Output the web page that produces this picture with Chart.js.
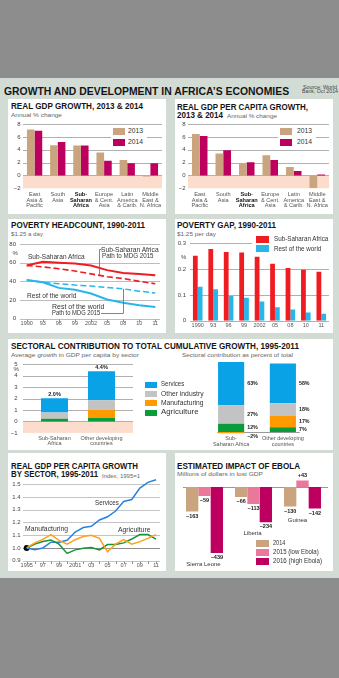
<!DOCTYPE html>
<html>
<head>
<meta charset="utf-8">
<script src="https://cdn.jsdelivr.net/npm/chart.js@4.4.0/dist/chart.umd.min.js"></script>
<style>
  body { margin: 0; width: 339px; height: 678px; background: #8d8d8d; position: relative; overflow: hidden;
         font-family: "Liberation Sans", Arial, sans-serif; }
  .bg { position: absolute; left: 0; top: 78px; width: 339px; height: 500px; background: #d2dcd5; }
  .box { position: absolute; background: #fff; }
  .tx { position: absolute; white-space: nowrap; transform-origin: 0 50%; }
  .sq { position: absolute; }
  canvas { position: absolute; }
</style>
</head>
<body>
<div class="bg"></div>
<script>
// ---- data ----
const gdpCats = [['East', 'Asia &', 'Pacific'], ['South', 'Asia'], ['Sub-', 'Saharan', 'Africa'],
                 ['Europe', '& Cent.', 'Asia'], ['Latin', 'America', '& Carib.'], ['Middle', 'East &', 'N. Africa']];
const gdp2013 = [7.15, 4.7, 4.65, 3.55, 2.4, -0.15];
const gdp2014 = [6.95, 5.2, 4.65, 2.3, 1.9, 1.9];
const pcap2013 = [6.45, 3.4, 1.95, 3.15, 1.3, -2.0];
const pcap2014 = [6.15, 3.9, 2.05, 2.4, 0.7, 0.15];

const povYears = ['1990', '93', '96', '99', '2002', '05', '08', '10', '11'];
const hcSSA = [57, 61, 60, 59, 57, 52, 49, 48, 46.5];
const hcSSAPath = [57, 55.5, 53.5, 51, 48, 45, 43, 40, 37.5];
const hcRest = [41.5, 39, 33, 31, 27, 20.5, 17, 14.5, 12.5];
const hcRestPath = [41.5, 39, 37.5, 36, 35, 33.5, 32, 29.5, 27.5];

const gapSSA = [0.252, 0.278, 0.266, 0.264, 0.248, 0.221, 0.204, 0.197, 0.19];
const gapRest = [0.132, 0.122, 0.096, 0.089, 0.074, 0.052, 0.043, 0.032, 0.027];

const sectorCats = [['Sub-Saharan', 'Africa'], ['Other developing', 'countries']];
const sectorCats2 = [['Sub-', 'Saharan Africa'], ['Other developing', 'countries']];
const avgAgri = [0.24, 0.31];
const avgManu = [-0.04, 0.75];
const avgOther = [0.54, 0.79];
const avgServ = [1.26, 2.55];
const avgTotal = [2.0, 4.4];
const shareAgri = [12, 7];
const shareManu = [-2, 17];
const shareOther = [27, 18];
const shareServ = [63, 58];

const secYears = ['1995', '1996', '1997', '1998', '1999', '2000', '2001', '2002', '2003', '2004',
                  '2005', '2006', '2007', '2008', '2009', '2010', '2011'];
const secTicks = ['1995', '97', '99', '2001', '03', '05', '07', '09', '11'];
const servIdx = [1.0, 0.987, 1.0, 1.045, 1.045, 1.06, 1.125, 1.16, 1.17, 1.22, 1.245, 1.29, 1.365, 1.38, 1.47, 1.515, 1.535];
const manuIdx = [1.0, 1.04, 1.067, 1.105, 1.06, 1.03, 1.065, 1.09, 1.1, 1.075, 0.97, 1.03, 1.065, 1.03, 1.05, 1.075, 1.105];
const agriIdx = [1.0, 1.03, 1.05, 1.063, 1.03, 0.957, 0.985, 0.997, 1.003, 0.985, 1.027, 1.027, 1.04, 1.07, 1.105, 1.105, 1.07];
const baseIdx = 1.0;

const ebolaCountries = ['Sierra Leone', 'Liberia', 'Guinea'];
const loss2014 = [-163, -66, -130];
const loss2015 = [-59, -113, 43];
const loss2016 = [-439, -234, -142];

// ---- colours ----
const TAN = '#c9a47f', MAG = '#bd0060', PINK = '#e9789a', NEGZ = '#fcdccc';
const RED = '#ef1c22', CYAN = '#28b6ea';
const C_SERV = '#0aa2e6', C_OTH = '#c3c3c3', C_MAN = '#ff9b00', C_AGR = '#0a9b3b';
const L_SERV = '#2a82dc', L_MAN = '#ff9f1a', L_AGR = '#149436';
const FONT = '"Liberation Sans", Arial, sans-serif';

Chart.defaults.font.family = FONT;
Chart.defaults.color = '#444';
Chart.defaults.animation = false;
Chart.defaults.responsive = false;
Chart.defaults.plugins.legend.display = false;
Chart.defaults.plugins.tooltip.enabled = false;

// ---- page helpers ----
function el(tag, cls, css) {
  const e = document.createElement(tag);
  if (cls) e.className = cls;
  Object.assign(e.style, css);
  document.body.appendChild(e);
  return e;
}
function box(x, y, w, h) {
  el('div', 'box', { left: x + 'px', top: y + 'px', width: w + 'px', height: h + 'px' });
}
function sq(x, y, w, h, c) {
  el('div', 'sq', { left: x + 'px', top: y + 'px', width: w + 'px', height: h + 'px', background: c });
}
function text(str, x, cy, fs, opt = {}) {
  const e = el('div', 'tx', {
    left: x + 'px', top: (cy - fs / 2) + 'px', fontSize: fs + 'px', lineHeight: fs + 'px',
    fontWeight: opt.b ? 'bold' : 'normal', color: opt.c || '#333'
  });
  e.textContent = str;
  if (opt.w) e.dataset.w = opt.w;
}
function canvas(bx) {
  const c = el('canvas', null, { left: bx[0] + 'px', top: bx[1] + 'px' });
  c.width = bx[2];
  c.height = bx[3];
  return c;
}
// padding / axis sizes so the plot area lands at [L, T, R, B] in page pixels
function frame(bx, area, hideX, hideY) {
  const [X, Y, W, H] = bx, [L, T, R, B] = area;
  return {
    padding: { left: hideY ? L - X : 0, top: T - Y, right: X + W - R, bottom: hideX ? Y + H - B : 0 },
    yw: L - X, xh: Y + H - B
  };
}
const minus = v => (v < 0 ? '\u2212' + Math.abs(v) : '' + v);

function yAxis(min, max, step, w, pad, fmt) {
  return {
    min, max, afterFit: s => { s.width = w; },
    grid: { display: false, drawTicks: false }, border: { display: false },
    ticks: { stepSize: step, padding: pad, font: { size: 6 }, color: '#444', callback: fmt }
  };
}
function xAxis(h, pad, size, extra) {
  return Object.assign({
    afterFit: s => { s.height = h; },
    grid: { display: false, drawTicks: false }, border: { display: false },
    ticks: { padding: pad, autoSkip: false, maxRotation: 0, font: { size: size, lineHeight: 1 }, color: '#555' }
  }, extra || {});
}

// gridlines, pink negative zone and x tick marks
const gridBg = {
  id: 'gridBg',
  beforeDatasetsDraw(chart, args, o) {
    const { ctx, chartArea: a } = chart;
    const y = chart.scales.y;
    const l = a.left - (o.extL || 0), r = a.right + (o.extR || 0);
    ctx.save();
    if (o.neg) {
      const z = y.getPixelForValue(0);
      ctx.fillStyle = NEGZ;
      ctx.fillRect(l, z, r - l, a.bottom - z);
    }
    ctx.lineWidth = 1;
    y.ticks.forEach(t => {
      if (o.neg && t.value === y.min) return;
      const p = Math.round(y.getPixelForValue(t.value)) + 0.5;
      ctx.strokeStyle = (o.dark !== undefined && Math.abs(t.value - o.dark) < 1e-6) ? '#8c8c8c' : (o.color || '#b0b0b0');
      ctx.beginPath(); ctx.moveTo(l, p); ctx.lineTo(r, p); ctx.stroke();
    });
    if (o.xTicks) {
      const x = chart.scales.x, b = Math.round(a.bottom) + 0.5;
      ctx.strokeStyle = '#8c8c8c';
      x.ticks.forEach((t, i) => {
        const px = Math.round(x.getPixelForTick(i)) + 0.5;
        ctx.beginPath(); ctx.moveTo(px, b); ctx.lineTo(px, b + 2.5); ctx.stroke();
      });
    }
    ctx.restore();
  }
};

// ---- panels and titles ----
box(8, 99, 158, 115); box(175, 99, 158, 115);
box(8, 219, 158, 114); box(175, 219, 158, 114);
box(8, 339, 325, 111);
box(8, 453, 158, 118); box(175, 453, 158, 118);

const T = { b: true, c: '#151515' }, S = { c: '#666' };
text('GROWTH AND DEVELOPMENT IN AFRICA\u2019S ECONOMIES', 3.5, 91.3, 10.5, { b: true, c: '#151515', w: 285 });
text('Source: World', 303.3, 88.5, 4.8, { c: '#444', w: 34 });
text('Bank, Oct 2014', 302, 92.6, 4.8, { c: '#444', w: 36 });

text('REAL GDP GROWTH, 2013 & 2014', 11, 106.3, 8.5, { ...T, w: 132 });
text('Annual % change', 11, 114.7, 6, { ...S, w: 51 });
text('REAL GDP PER CAPITA GROWTH,', 177.3, 107, 8.5, { ...T, w: 131 });
text('2013 & 2014', 177.3, 115.7, 8.5, { ...T, w: 46 });
text('Annual % change', 226.7, 116, 6, { ...S, w: 50 });

text('POVERTY HEADCOUNT, 1990-2011', 11, 225.7, 8.5, { ...T, w: 134 });
text('$1.25 a day', 11, 233.5, 6, { ...S, w: 32 });
text('POVERTY GAP, 1990-2011', 177.3, 225.7, 8.5, { ...T, w: 99 });
text('$1.25 per day', 177.3, 233.5, 6, { ...S, w: 39 });

text('SECTORAL CONTRIBUTION TO TOTAL CUMULATIVE GROWTH, 1995-2011', 11, 346.3, 8.5, { ...T, w: 288 });
text('Average growth in GDP per capita by sector', 11, 354.5, 6, { ...S, w: 128 });
text('Sectoral contribution as percent of total', 181.7, 354.5, 6, { ...S, w: 111 });

text('REAL GDP PER CAPITA GROWTH', 11, 466.3, 8.5, { ...T, w: 127 });
text('BY SECTOR, 1995-2011', 11, 474.7, 8.5, { ...T, w: 87 });
text('Index, 1995=1', 101.7, 475.5, 6, { ...S, w: 38 });

text('ESTIMATED IMPACT OF EBOLA', 177.3, 466.3, 8.5, { ...T, w: 123 });
text('Millions of dollars in lost GDP', 177.3, 474, 6, { ...S, w: 86 });

// ---- GDP growth charts ----
function gdpChart(bx, area, d13, d14) {
  const f = frame(bx, area);
  new Chart(canvas(bx), {
    type: 'bar',
    data: { labels: gdpCats, datasets: [
      { label: '2013', data: d13, backgroundColor: TAN },
      { label: '2014', data: d14, backgroundColor: MAG }
    ] },
    options: {
      layout: { padding: f.padding },
      datasets: { bar: { categoryPercentage: 0.66, barPercentage: 1 } },
      scales: {
        x: xAxis(f.xh, 3.5, 5.6, {}),
        y: yAxis(-2, 8, 2, f.yw, 2.5, minus)
      },
      plugins: { gridBg: { neg: true } }
    },
    plugins: [gridBg]
  });
}
gdpChart([8, 99, 158, 115], [23, 124, 162, 188.3], gdp2013, gdp2014);
gdpChart([175, 99, 158, 115], [188, 124, 329, 188.3], pcap2013, pcap2014);
// bold Sub-Saharan tick
Object.values(Chart.instances).forEach(c => {
  c.options.scales.x.ticks.font = ctx => ({ size: 5.6, lineHeight: 1, weight: ctx.index === 2 ? 'bold' : 'normal' });
  c.options.scales.x.ticks.color = ctx => (ctx.index === 2 ? '#111' : '#555');
  c.update();
});

el('div', 'sq', { left: '111px', top: '126px', width: '36px', height: '22px', background: '#fff' });
sq(113.3, 128.3, 11.7, 6.7, TAN); sq(113.3, 139, 11.7, 6.7, MAG);
text('2013', 128.3, 131.7, 6.5, { w: 15 }); text('2014', 128.3, 142.3, 6.5, { w: 15 });
el('div', 'sq', { left: '278px', top: '126px', width: '38px', height: '22px', background: '#fff' });
sq(280, 128.3, 12.3, 6.7, TAN); sq(280, 139, 12.3, 6.7, MAG);
text('2013', 296.7, 131.7, 6.5, { w: 15 }); text('2014', 296.7, 142.3, 6.5, { w: 15 });

// ---- poverty headcount ----
const hcNotes = {
  id: 'hcNotes',
  afterDatasetsDraw(chart) {
    const { ctx, scales: { x, y } } = chart;
    ctx.save();
    ctx.strokeStyle = '#666';
    ctx.lineWidth = 0.8;
    const xa = Math.round(x.getPixelForValue(4.5)) + 0.5;
    const ya = y.getPixelForValue((hcSSAPath[4] + hcSSAPath[5]) / 2);
    ctx.beginPath(); ctx.moveTo(xa + 2, 30.5); ctx.lineTo(xa, 30.5); ctx.lineTo(xa, ya); ctx.stroke();
    const xb = Math.round(x.getPixelForValue(6)) + 0.5, yb = y.getPixelForValue(hcRestPath[6]);
    ctx.beginPath(); ctx.moveTo(93, 94.5); ctx.lineTo(xb, 94.5); ctx.lineTo(xb, yb); ctx.stroke();
    ctx.restore();
  }
};
{
  const bx = [8, 219, 158, 114], f = frame(bx, [26.7, 244, 155.3, 320.7]);
  new Chart(canvas(bx), {
    type: 'line',
    data: { labels: povYears, datasets: [
      { data: hcRestPath, borderColor: CYAN, borderWidth: 1.5, borderDash: [6, 3] },
      { data: hcRest, borderColor: CYAN, borderWidth: 2 },
      { data: hcSSAPath, borderColor: RED, borderWidth: 1.6, borderDash: [6, 3] },
      { data: hcSSA, borderColor: RED, borderWidth: 2 }
    ] },
    options: {
      layout: { padding: f.padding },
      elements: { point: { radius: 0 }, line: { tension: 0 } },
      scales: {
        x: xAxis(f.xh, 2.5, 5.5),
        y: yAxis(0, 80, 20, f.yw, 10.7)
      },
      plugins: { gridBg: { extL: 6.7, extR: 4.7, xTicks: true, color: '#bdbdbd' } }
    },
    plugins: [gridBg, hcNotes]
  });
}
text('%', 12.5, 252.7, 6, { c: '#444' });
text('Sub-Saharan Africa', 28.3, 256.7, 6.3, { w: 56.7 });
text('Sub-Saharan Africa', 100.7, 250, 6.3, { w: 57.6 });
text('Path to MDG 2015', 101.7, 256.2, 6.3, { w: 51.6 });
text('Rest of the world', 26.7, 296, 6.3, { w: 49.3 });
text('Rest of the world', 51.7, 306.7, 6.3, { w: 52.3 });
text('Path to MDG 2015', 51.7, 313.3, 6.3, { w: 48.3 });

// ---- poverty gap ----
{
  const bx = [175, 219, 158, 114], f = frame(bx, [190, 243.3, 329, 320.7]);
  new Chart(canvas(bx), {
    type: 'bar',
    data: { labels: povYears, datasets: [
      { label: 'Sub-Saharan Africa', data: gapSSA, backgroundColor: RED },
      { label: 'Rest of the world', data: gapRest, backgroundColor: CYAN }
    ] },
    options: {
      layout: { padding: f.padding },
      datasets: { bar: { categoryPercentage: 0.62, barPercentage: 1 } },
      scales: {
        x: xAxis(f.xh, 2.5, 5.5),
        y: yAxis(0, 0.3, 0.1, f.yw, 4, v => (v === 0 ? '0' : v.toFixed(1)))
      },
      plugins: { gridBg: {} }
    },
    plugins: [gridBg]
  });
}
text('%', 181, 256.7, 6, { c: '#444' });
el('div', 'sq', { left: '252px', top: '234px', width: '80px', height: '20px', background: '#fff' });
sq(256, 236, 13.3, 6.7, RED); sq(256, 245.3, 13.3, 6.7, CYAN);
text('Sub-Saharan Africa', 273.7, 239.5, 6.5, { w: 54.3 });
text('Rest of the world', 273.7, 249, 6.5, { w: 47.3 });

// ---- sectoral contribution ----
const sectorSets = (a, m, o, s) => [
  { label: 'Agriculture', data: a, backgroundColor: C_AGR },
  { label: 'Manufacturing', data: m, backgroundColor: C_MAN },
  { label: 'Other industry', data: o, backgroundColor: C_OTH },
  { label: 'Services', data: s, backgroundColor: C_SERV }
];
const avgLabels = {
  id: 'avgLabels',
  afterDatasetsDraw(chart) {
    const { ctx, scales: { x, y } } = chart;
    ctx.save();
    ctx.font = 'bold 5.5px ' + FONT;
    ctx.fillStyle = '#222';
    ctx.textAlign = 'center';
    ctx.textBaseline = 'middle';
    avgTotal.forEach((v, i) => {
      const top = [avgAgri, avgManu, avgOther, avgServ].reduce((s, d) => s + Math.max(0, d[i]), 0);
      ctx.fillText(v.toFixed(1) + '%', x.getPixelForValue(i), y.getPixelForValue(top) - 3.8);
    });
    ctx.restore();
  }
};
{
  const bx = [8, 339, 132, 111], f = frame(bx, [31, 364.4, 125, 434.4]);
  new Chart(canvas(bx), {
    type: 'bar',
    data: { labels: sectorCats, datasets: sectorSets(avgAgri, avgManu, avgOther, avgServ) },
    options: {
      layout: { padding: f.padding },
      datasets: { bar: { categoryPercentage: 1, barPercentage: 0.575 } },
      scales: {
        x: xAxis(f.xh, 2.5, 5.5, { stacked: true }),
        y: Object.assign(yAxis(-1, 5, 1, f.yw, 13.5, minus), { stacked: true })
      },
      plugins: { gridBg: { neg: true, extL: 8, extR: 8 } }
    },
    plugins: [gridBg, avgLabels]
  });
}
text('%', 13.5, 368.6, 6, { c: '#444' });

const shareLabels = {
  id: 'shareLabels',
  beforeDatasetsDraw(chart) {
    const { ctx, chartArea: a, scales: { y } } = chart;
    const z = Math.round(y.getPixelForValue(0)) + 0.5;
    ctx.save();
    ctx.strokeStyle = '#999';
    ctx.lineWidth = 1;
    ctx.beginPath(); ctx.moveTo(a.left + 12, z); ctx.lineTo(a.right - 9, z); ctx.stroke();
    ctx.restore();
  },
  afterDatasetsDraw(chart) {
    const { ctx } = chart;
    ctx.save();
    ctx.font = 'bold 5.3px ' + FONT;
    ctx.fillStyle = '#222';
    ctx.textAlign = 'left';
    ctx.textBaseline = 'middle';
    chart.data.datasets.forEach((ds, di) => {
      chart.getDatasetMeta(di).data.forEach((bar, i) => {
        const v = ds.data[i];
        const p = bar.getProps(['x', 'y', 'base', 'width'], true);
        const ty = v < 0 ? p.y + 2.8 : (p.y + p.base) / 2;
        ctx.fillText(minus(v) + '%', p.x + p.width / 2 + 3, ty);
      });
    });
    ctx.restore();
  }
};
{
  const bx = [196, 339, 137, 111], f = frame(bx, [205.25, 359.3, 308.75, 434.7], false, true);
  new Chart(canvas(bx), {
    type: 'bar',
    data: { labels: sectorCats2, datasets: sectorSets(shareAgri, shareManu, shareOther, shareServ) },
    options: {
      layout: { padding: f.padding },
      datasets: { bar: { categoryPercentage: 1, barPercentage: 0.505 } },
      scales: {
        x: xAxis(f.xh, 1.5, 5.5, { stacked: true }),
        y: { display: false, stacked: true, min: -4, max: 106 }
      }
    },
    plugins: [shareLabels]
  });
}
sq(145, 381.7, 11.7, 6, C_SERV); sq(145, 391, 11.7, 6, C_OTH);
sq(145, 400.3, 11.7, 6, C_MAN); sq(145, 409.7, 11.7, 6, C_AGR);
text('Services', 160.7, 384.7, 6.5, { w: 23.3 });
text('Other industry', 160.7, 394, 6.5, { w: 42.6 });
text('Manufacturing', 160.7, 403.3, 6.5, { w: 42.6 });
text('Agriculture', 160.7, 412.7, 6.5, { w: 37.6 });

// ---- GDP per capita by sector ----
{
  // 1.5 gridline at y=484.3, 0.9 at 560.7; plot reaches up to 1.55
  const bx = [8, 453, 158, 118], f = frame(bx, [26.7, 477.9, 156, 560.7]);
  const yOpts = yAxis(0.9, 1.55, 0.1, f.yw, 6, v => v.toFixed(1));
  yOpts.ticks.includeBounds = false;
  new Chart(canvas(bx), {
    type: 'line',
    data: { labels: secYears, datasets: [
      { label: 'Manufacturing', data: manuIdx, borderColor: L_MAN, borderWidth: 1.5 },
      { label: 'Agriculture', data: agriIdx, borderColor: L_AGR, borderWidth: 1.5 },
      { label: 'Services', data: servIdx, borderColor: L_SERV, borderWidth: 1.5 },
      { data: secYears.map((yr, i) => (i === 0 ? baseIdx : null)), borderWidth: 0,
        pointRadius: 3, pointBackgroundColor: '#000', pointBorderWidth: 0 }
    ] },
    options: {
      layout: { padding: f.padding },
      elements: { point: { radius: 0 }, line: { tension: 0 } },
      scales: {
        x: xAxis(f.xh, 2.5, 5.5, {}),
        y: yOpts
      },
      plugins: { gridBg: { extL: 3.7, extR: 4, xTicks: true, dark: 1.0, color: '#c4c4c4' } }
    },
    plugins: [gridBg]
  });
  const c = Chart.getChart(document.querySelectorAll('canvas')[6]);
  c.options.scales.x.ticks.callback = (v, i) => (i % 2 === 0 ? secTicks[i / 2] : '');
  c.update();
}
text('Services', 95, 503, 6.5, { w: 24 });
text('Manufacturing', 25, 529.3, 6.5, { w: 43 });
text('Agriculture', 118.3, 530, 6.5, { w: 32.4 });

// ---- Ebola ----
const ebolaLabels = {
  id: 'ebolaLabels',
  beforeDatasetsDraw(chart) {
    const { ctx, chartArea: a, scales: { y } } = chart;
    const z = Math.round(y.getPixelForValue(0)) + 0.5;
    ctx.save();
    ctx.strokeStyle = '#999';
    ctx.lineWidth = 1;
    ctx.beginPath(); ctx.moveTo(a.left + 3, z); ctx.lineTo(a.right + 1, z); ctx.stroke();
    ctx.restore();
  },
  afterDatasetsDraw(chart) {
    const { ctx, scales: { x, y } } = chart;
    ctx.save();
    ctx.font = 'bold 5.5px ' + FONT;
    ctx.fillStyle = '#222';
    ctx.textAlign = 'center';
    chart.data.datasets.forEach((ds, di) => {
      chart.getDatasetMeta(di).data.forEach((bar, i) => {
        const v = ds.data[i];
        const p = bar.getProps(['x', 'y'], true);
        ctx.textBaseline = v < 0 ? 'top' : 'bottom';
        ctx.fillText(v < 0 ? minus(v) : '+' + v, p.x, v < 0 ? p.y + 2 : p.y - 2);
      });
    });
    ctx.font = '6px ' + FONT;
    ctx.fillStyle = '#333';
    ctx.textBaseline = 'middle';
    chart.data.labels.forEach((name, i) => {
      const low = Math.min(...chart.data.datasets.map(d => d.data[i]));
      ctx.fillText(name, x.getPixelForValue(i) - (i === 2 ? 5 : 1), y.getPixelForValue(low) + 11.5);
    });
    ctx.restore();
  }
};
{
  const bx = [175, 453, 158, 118], f = frame(bx, [180, 478, 327, 556.2], true, true);
  new Chart(canvas(bx), {
    type: 'bar',
    data: { labels: ebolaCountries, datasets: [
      { label: '2014', data: loss2014, backgroundColor: TAN },
      { label: '2015 (low Ebola)', data: loss2015, backgroundColor: PINK },
      { label: '2016 (high Ebola)', data: loss2016, backgroundColor: MAG }
    ] },
    options: {
      layout: { padding: f.padding },
      datasets: { bar: { categoryPercentage: 0.755, barPercentage: 1 } },
      scales: {
        x: { display: false },
        y: { display: false, min: -460, max: 60 }
      }
    },
    plugins: [ebolaLabels]
  });
}
sq(256, 540, 13, 6.7, TAN); sq(256, 549.3, 13, 6.7, PINK); sq(256, 558.3, 13, 6.7, MAG);
text('2014', 273, 543.3, 6.5, { w: 12.3 });
text('2015 (low Ebola)', 273, 552.7, 6.5, { w: 45.7 });
text('2016 (high Ebola)', 273, 561.7, 6.5, { w: 49 });

// squeeze text to the measured widths
document.querySelectorAll('[data-w]').forEach(e => {
  const w = e.getBoundingClientRect().width;
  e.style.transform = 'scaleX(' + (+e.dataset.w / w).toFixed(3) + ')';
});
</script>
</body>
</html>
